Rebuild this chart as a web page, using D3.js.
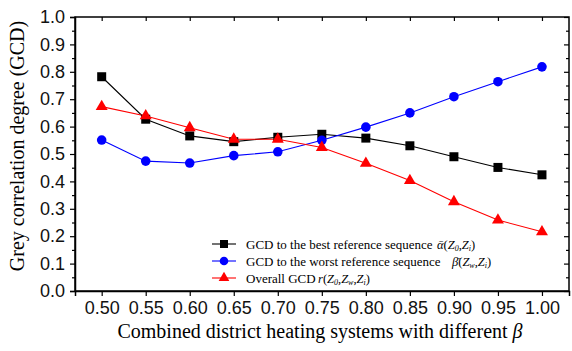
<!DOCTYPE html>
<html>
<head>
<meta charset="utf-8">
<script src="https://cdn.jsdelivr.net/npm/d3@7"></script>
<style>
  body { margin: 0; background: #fff; }
  svg { display: block; }
</style>
</head>
<body>
<svg id="chart" width="572" height="351"></svg>
<script>
// data
var betas = [0.50, 0.55, 0.60, 0.65, 0.70, 0.75, 0.80, 0.85, 0.90, 0.95, 1.00];
var bestGcd = [0.782, 0.627, 0.566, 0.545, 0.561, 0.572, 0.558, 0.530, 0.490, 0.451, 0.424];
var worstGcd = [0.551, 0.474, 0.467, 0.494, 0.508, 0.550, 0.598, 0.650, 0.709, 0.764, 0.818];
var overallGcd = [0.673, 0.639, 0.596, 0.554, 0.554, 0.524, 0.466, 0.403, 0.326, 0.259, 0.216];
var yTicks = [0.0, 0.1, 0.2, 0.3, 0.4, 0.5, 0.6, 0.7, 0.8, 0.9, 1.0];
var xlabel = "Combined district heating systems with different ";
var ylabel = "Grey correlation degree (GCD)";

var svg = d3.select("#chart");
var margin = { top: 17, right: 3, bottom: 60, left: 75 };
var width = svg.attr("width") - margin.left - margin.right;
var height = svg.attr("height") - margin.top - margin.bottom;

var x = d3.scaleLinear().domain([0.4697, 1.0307]).range([0, width]);
var y = d3.scaleLinear().domain([0, 1]).range([height, 0]);

var g = svg.append("g")
    .attr("transform", "translate(" + margin.left + "," + margin.top + ")");

var minorY = d3.range(0.05, 1.0, 0.1);

// bottom axis
g.append("g")
    .attr("transform", "translate(0," + height + ")")
    .call(d3.axisBottom(x).tickValues(betas).tickSize(5).tickPadding(5).tickFormat(d3.format(".2f")));
// left axis
g.append("g")
    .call(d3.axisLeft(y).tickValues(yTicks).tickSize(5).tickPadding(5).tickFormat(d3.format(".1f")));
g.append("g")
    .call(d3.axisLeft(y).tickValues(minorY).tickSize(3).tickFormat(""))
    .select(".domain").remove();
// top axis, ticks inward
g.append("g")
    .call(d3.axisBottom(x).tickValues(betas).tickSize(4).tickFormat(""))
    .select(".domain").remove();
// right axis, ticks inward
g.append("g")
    .attr("transform", "translate(" + width + ",0)")
    .call(d3.axisLeft(y).tickValues(yTicks).tickSize(5).tickFormat(""))
    .select(".domain").remove();
g.append("g")
    .attr("transform", "translate(" + width + ",0)")
    .call(d3.axisLeft(y).tickValues(minorY).tickSize(3).tickFormat(""))
    .select(".domain").remove();

// frame
g.append("rect")
    .attr("width", width).attr("height", height)
    .attr("fill", "none").attr("stroke", "#000").attr("stroke-width", 1.5);

g.selectAll(".domain").attr("stroke-width", 1.5);
g.selectAll(".tick line").attr("stroke", "#000").attr("stroke-width", 1.2);
g.selectAll(".tick text")
    .style("font", "18px 'Liberation Sans', Arial, sans-serif")
    .attr("fill", "#111");

var series = [
    { values: bestGcd, color: "#000000", shape: d3.symbolSquare, size: 81 },
    { values: worstGcd, color: "#0000ff", shape: d3.symbolCircle, size: 72 },
    { values: overallGcd, color: "#ff0000", shape: d3.symbolTriangle, size: 62 }
];

var line = d3.line()
    .x(function (d) { return x(d[0]); })
    .y(function (d) { return y(d[1]); });

series.forEach(function (s) {
    var pts = betas.map(function (b, i) { return [b, s.values[i]]; });
    g.append("path")
        .datum(pts)
        .attr("fill", "none")
        .attr("stroke", s.color)
        .attr("stroke-width", 1.1)
        .attr("d", line);
});
series.forEach(function (s) {
    var pts = betas.map(function (b, i) { return [b, s.values[i]]; });
    g.selectAll(null)
        .data(pts)
        .enter().append("path")
        .attr("transform", function (d) { return "translate(" + x(d[0]) + "," + y(d[1]) + ")"; })
        .attr("d", d3.symbol().type(s.shape).size(s.size))
        .attr("fill", s.color);
});

// legend
var legendRows = [
    { label: "GCD to the best reference sequence", formula: "alpha", fx: 437 },
    { label: "GCD to the worst reference sequence", formula: "beta", fx: 452 },
    { label: "Overall GCD", formula: "r", fx: 318 }
];
var legendY = [244, 261, 278];
var lg = svg.append("g");
legendRows.forEach(function (r, i) {
    var s = series[i];
    var yy = legendY[i];
    lg.append("line").attr("x1", 212).attr("x2", 236).attr("y1", yy).attr("y2", yy)
        .attr("stroke", s.color).attr("stroke-width", 1.1);
    lg.append("path")
        .attr("transform", "translate(224," + yy + ")")
        .attr("d", d3.symbol().type(s.shape).size(s.size * 0.8))
        .attr("fill", s.color);
    lg.append("text")
        .attr("x", 246).attr("y", yy + 4.5)
        .style("font", "13px 'Liberation Serif', 'Times New Roman', serif")
        .text(r.label);

    var t = lg.append("text")
        .attr("x", r.fx).attr("y", yy + 4.5)
        .style("font", "12.5px 'Liberation Serif', 'Times New Roman', serif");
    var sub = function (str) {
        t.append("tspan").attr("baseline-shift", "-25%").style("font-size", "8px").style("font-style", "italic").text(str);
    };
    var txt = function (str, italic) {
        t.append("tspan").style("font-style", italic ? "italic" : "normal").text(str);
    };
    if (r.formula === "alpha") {
        txt("\u03B1\u0304", true); txt("(", false); txt("Z", true); sub("0"); txt(",", false); txt("Z", true); sub("i"); txt(")", false);
    } else if (r.formula === "beta") {
        txt("\u03B2\u0304", true); txt("(", false); txt("Z", true); sub("w"); txt(",", false); txt("Z", true); sub("i"); txt(")", false);
    } else {
        txt("r", true); txt("(", false); txt("Z", true); sub("0"); txt(",", false); txt("Z", true); sub("w"); txt(",", false); txt("Z", true); sub("i"); txt(")", false);
    }
});

// text label for the x axis
var xt = svg.append("text")
    .attr("x", margin.left + width / 2 - 2)
    .attr("y", 338)
    .style("text-anchor", "middle")
    .style("font", "20px 'Liberation Serif', 'Times New Roman', serif")
    .text(xlabel);
xt.append("tspan").style("font-style", "italic").text("\u03B2");

// text label for the y axis
svg.append("text")
    .attr("transform", "rotate(-90)")
    .attr("x", 0 - (margin.top + height / 2) + 8)
    .attr("y", 24)
    .style("text-anchor", "middle")
    .style("font", "20px 'Liberation Serif', 'Times New Roman', serif")
    .text(ylabel);
</script>
</body>
</html>
